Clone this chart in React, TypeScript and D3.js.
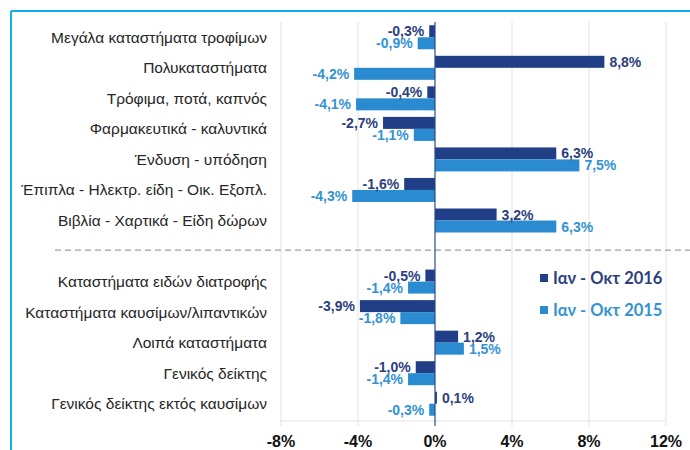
import React from "react";
import * as d3 from "d3";

const categoriesTop = [
  "Μεγάλα καταστήματα τροφίμων",
  "Πολυκαταστήματα",
  "Τρόφιμα,  ποτά,  καπνός",
  "Φαρμακευτικά - καλυντικά",
  "Ένδυση - υπόδηση",
  "Έπιπλα - Ηλεκτρ. είδη - Οικ. Εξοπλ.",
  "Βιβλία - Χαρτικά - Είδη δώρων",
];
const categoriesBottom = [
  "Καταστήματα ειδών διατροφής",
  "Καταστήματα καυσίμων/λιπαντικών",
  "Λοιπά καταστήματα",
  "Γενικός δείκτης",
  "Γενικός δείκτης εκτός καυσίμων",
];
const values2016 = [-0.3, 8.8, -0.4, -2.7, 6.3, -1.6, 3.2, -0.5, -3.9, 1.2, -1.0, 0.1];
const values2015 = [-0.9, -4.2, -4.1, -1.1, 7.5, -4.3, 6.3, -1.4, -1.8, 1.5, -1.4, -0.3];
const seriesNames = ["Ιαν - Οκτ 2016", "Ιαν - Οκτ 2015"];
const xTicks = [-8, -4, 0, 4, 8, 12];
const xTickLabels = ["-8%", "-4%", "0%", "4%", "8%", "12%"];

const DARK = "#203F87";
const LIGHT = "#2A8BD0";
const DARK_TXT = "#2C3F80";
const LIGHT_TXT = "#3393D4";
const GAP = "__gap";

const fmt = (v: number) => v.toFixed(1).replace(".", ",") + "%";

export default function App() {
  const W = 690;
  const H = 450;
  const categories = [...categoriesTop, ...categoriesBottom];
  const slots = [...categoriesTop, GAP, ...categoriesBottom];
  const x = d3.scaleLinear().domain([-8, 12]).range([281, 666]);
  const y = d3.scaleBand<string>().domain(slots).range([22, 419]).padding(0);
  const bw = y.bandwidth();
  const barH = 12;
  const x0 = x(0);
  const plotTop = 22;
  const plotBottom = 421;

  const rows = categories.map((c, i) => ({
    c,
    yc: (y(c) as number) + bw / 2,
    v16: values2016[i],
    v15: values2015[i],
  }));

  const gapY = (y(GAP) as number) + bw / 2;
  const labelFont = "'Liberation Sans', Arial, sans-serif";

  const bar = (v: number, yTop: number, fill: string, key: string) => {
    const xa = Math.min(x(v), x0);
    const w = Math.abs(x(v) - x0);
    return <rect key={key} x={xa} y={yTop} width={Math.max(w, 1.5)} height={barH} fill={fill} />;
  };
  const lbl = (v: number, yMid: number, fill: string, key: string) => {
    const xe = x(v);
    const neg = v < 0;
    return (
      <text
        key={key}
        x={neg ? xe - 5 : xe + 5}
        y={yMid}
        dy="0.36em"
        textAnchor={neg ? "end" : "start"}
        fontFamily={labelFont}
        fontWeight="bold"
        fontSize={14}
        fill={fill}
      >
        {fmt(v)}
      </text>
    );
  };

  return (
    <svg width={W} height={H} style={{ position: "absolute", left: 0, top: 0, background: "#fff" }}>
      {/* frame */}
      <line x1={11} y1={11} x2={W} y2={11} stroke="#12AEEF" strokeWidth={2} />
      <line x1={11} y1={11} x2={11} y2={H} stroke="#12AEEF" strokeWidth={2} />

      {/* gridlines */}
      {xTicks.filter((t) => t !== 0).map((t) => (
        <line key={"g" + t} x1={x(t)} x2={x(t)} y1={plotTop} y2={plotBottom + 5} stroke="#E3E3E3" strokeWidth={1} />
      ))}
      <line x1={x(-8)} x2={x(12)} y1={plotBottom} y2={plotBottom} stroke="#E3E3E3" strokeWidth={1} />

      {/* dashed separator */}
      <line x1={55} x2={W} y1={gapY - 1} y2={gapY - 1} stroke="#9E9E9E" strokeWidth={1.3} strokeDasharray="6,4" />

      {/* category labels */}
      {rows.map((r) => (
        <text
          key={"c" + r.c}
          x={267}
          y={r.yc}
          dy="0.35em"
          textAnchor="end"
          fontFamily={labelFont}
          fontSize={15.5}
          fill="#262626"
        >
          {r.c}
        </text>
      ))}

      {/* bars */}
      {rows.map((r, i) => bar(r.v16, r.yc - barH, DARK, "d" + i))}
      {rows.map((r, i) => bar(r.v15, r.yc, LIGHT, "l" + i))}

      {/* zero line */}
      <line x1={x0} x2={x0} y1={plotTop} y2={plotBottom + 5} stroke="#2C4A8C" strokeWidth={1.2} />

      {/* labels */}
      {rows.map((r, i) => lbl(r.v16, r.yc - barH / 2, DARK_TXT, "dl" + i))}
      {rows.map((r, i) => lbl(r.v15, r.yc + barH / 2, LIGHT_TXT, "ll" + i))}

      {/* x axis tick labels */}
      {xTicks.map((t, i) => (
        <text
          key={"t" + t}
          x={x(t)}
          y={447}
          textAnchor="middle"
          fontFamily={labelFont}
          fontWeight="bold"
          fontSize={16}
          fill="#111"
        >
          {xTickLabels[i]}
        </text>
      ))}

      {/* legend */}
      {seriesNames.map((s, i) => (
        <g key={"lg" + i} transform={`translate(540, ${278 + i * 32})`}>
          <rect x={0} y={-4} width={8} height={8} fill={i === 0 ? DARK : LIGHT} />
          <text
            x={13}
            y={0}
            dy="0.36em"
            fontFamily="Lato, 'Open Sans', sans-serif"
            fontWeight="bold"
            fontSize={16.5}
            fill={i === 0 ? DARK_TXT : LIGHT_TXT}
          >
            {s}
          </text>
        </g>
      ))}
    </svg>
  );
}
